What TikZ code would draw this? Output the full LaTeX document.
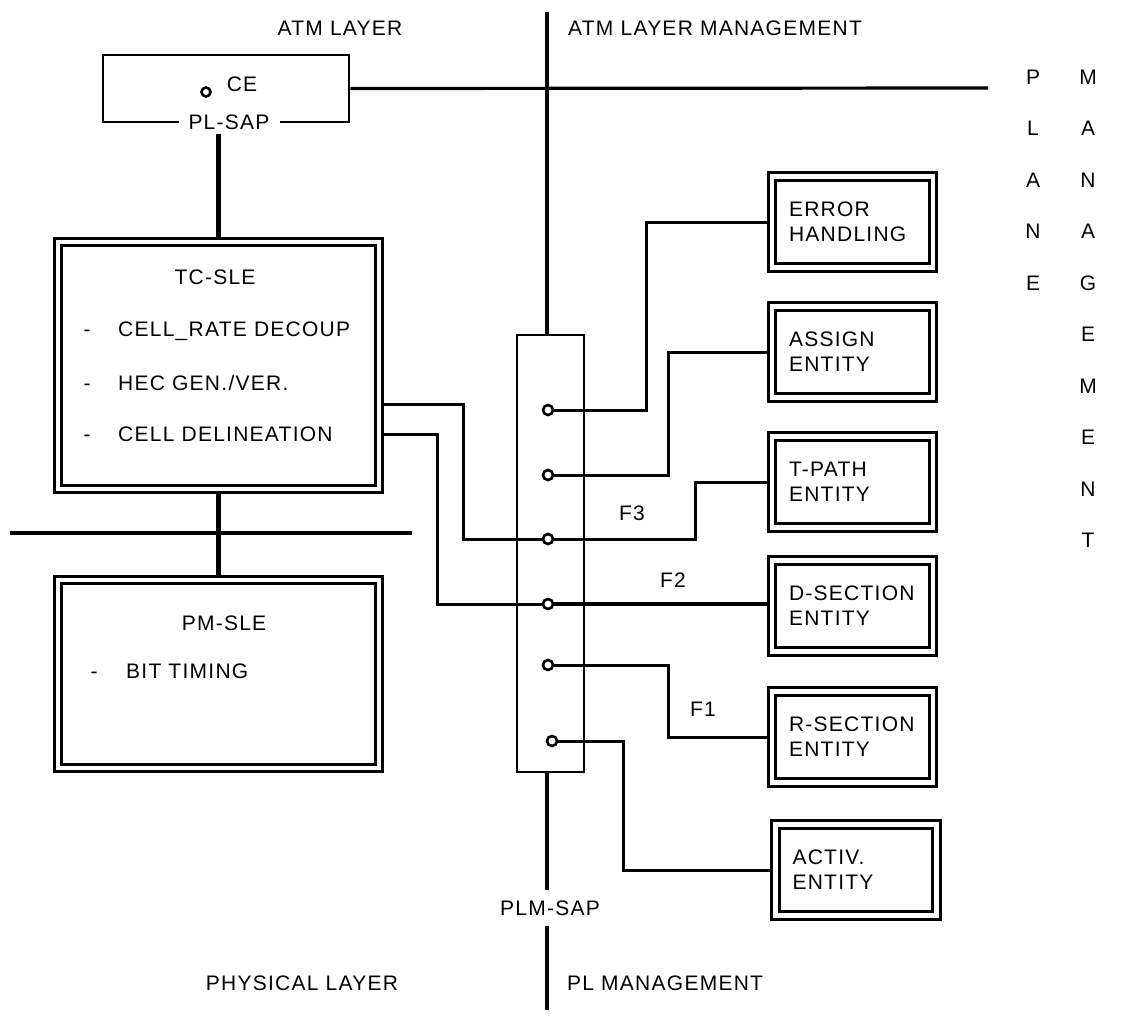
\documentclass[tikz,border=0pt]{standalone}
\usepackage{fontspec}
\setmainfont{Liberation Sans}[LetterSpace=6]
\begin{document}
\begin{tikzpicture}[x=1pt,y=-1pt,
  every node/.style={font=\fontsize{21}{25}\selectfont, inner sep=0pt},
  dbox/.style={draw, line width=2.8pt, double, double distance=4.5pt, outer sep=5pt,
               minimum width=161pt, minimum height=91pt, text width=127pt, inner xsep=17pt, align=left},
  bigbox/.style={draw, line width=2.8pt, double, double distance=4.5pt, outer sep=5pt},
  thin/.style={line width=3pt},
  thick/.style={line width=4.5pt},
  port/.style={circle, draw, fill=white, line width=2.6pt, minimum size=10pt},
  lbl/.style={}]
\useasboundingbox (0,0) rectangle (1121,1018);

% headings
\node[lbl] (hatm) at (340,28) {ATM LAYER};
\node[lbl, anchor=west] (hatmm) at (568,28) {ATM LAYER MANAGEMENT};
\node[lbl] (hphy) at (302,983) {PHYSICAL LAYER};
\node[lbl, anchor=west] (hplm) at (567,983) {PL MANAGEMENT};

% CE box
\node[draw, line width=2.8pt, minimum width=246pt, minimum height=67pt] (ce) at (226,88.5) {};
\node[fill=white, inner xsep=10pt, inner ysep=4pt] (plsap) at (229,122) {PL-SAP};
\node[port, minimum size=9pt] (cep) at (206,92) {};
\node[lbl] (cet) at (242,84) {CE};

% TC-SLE box
\node[bigbox, minimum width=321pt, minimum height=247pt] (tc) at (218.5,365.5) {};
\node (tct) at (215,277) {TC-SLE};
\node[anchor=base] (d1) at (87,336.5) {-};
\node[anchor=base west] (t1) at (118,336.5) {CELL\_RATE DECOUP};
\node[anchor=base] (d2) at (87,390.5) {-};
\node[anchor=base west] (t2) at (118,390.5) {HEC GEN./VER.};
\node[anchor=base] (d3) at (87,441.5) {-};
\node[anchor=base west] (t3) at (118,441.5) {CELL DELINEATION};

% PM-SLE box
\node[bigbox, minimum width=321pt, minimum height=188pt] (pm) at (218.5,674) {};
\node (pmt) at (224,623) {PM-SLE};
\node[anchor=base] (d4) at (94,678.5) {-};
\node[anchor=base west] (t4) at (126,678.5) {BIT TIMING};

% vertical connections on the left
\draw[thick] (plsap.south -| tc.north) -- (tc.north);
\draw[thick] (tc.south) -- (pm.north);
\coordinate (layl) at (10,533);
\coordinate (layr) at (412,533);
\draw[line width=3.2pt] (layl) -- (layr);

% PLANE MANAGEMENT
\foreach \c [count=\i from 0] in {P,L,A,N,E}
  \node (pl\i) at (1033,77+51.5*\i) {\c};
\foreach \c [count=\i from 0] in {M,A,N,A,G,E,M,E,N,T}
  \node (mg\i) at (1088,77+51.5*\i) {\c};

\coordinate (ceend) at (988,88);
\draw[line width=3.2pt] (ce.east) -- (ceend);

% PLM box and main vertical line
\node[draw, line width=2.8pt, minimum width=67pt, minimum height=437pt] (plm) at (550.5,553.5) {};
\coordinate (vtop) at (547,12);
\coordinate (vbot) at (547,1010);
\node[inner xsep=4pt, inner ysep=10pt] (plmsap) at (550,908) {PLM-SAP};
\draw[thick] (vtop) -- (vtop |- plm.north);
\draw[thick] (vtop |- plm.south) -- (vtop |- plmsap.north);
\draw[thick] (vtop |- plmsap.south) -- (vbot);

% right boxes
\node[dbox] (err) at (852.5,222) {ERROR\\HANDLING};
\node[dbox] (asg) at (852.5,352) {ASSIGN\\ENTITY};
\node[dbox] (tp) at (852.5,482) {T-PATH\\ENTITY};
\node[dbox] (ds) at (852.5,606) {D-SECTION\\ENTITY};
\node[dbox] (rs) at (852.5,737) {R-SECTION\\ENTITY};
\node[dbox] (ac) at (856,870) {ACTIV.\\ENTITY};

% ports
\coordinate (p1) at (548,410);
\coordinate (p2) at (548,475);
\coordinate (p3) at (548,539);
\coordinate (p4) at (548,604);
\coordinate (p5) at (548,665);
\coordinate (p6) at (552,741);
\coordinate (tca) at (384,404);
\coordinate (tcb) at (384,434);

% connectors
\draw[thin] (p1) -- (646,410) |- (err.west);
\draw[thin] (p2) -- (668,475) |- (asg.west);
\draw[thin] (p3) -- (695,539) |- (tp.west);
\draw[line width=3.4pt] (p4) -- (p4 -| ds.west);
\draw[thin] (p5) -- (668,665) |- (rs.west);
\draw[thin] (p6) -- (623,741) |- (ac.west);
\draw[thin] (tca) -- (463,404) |- (p3);
\draw[thin] (tcb) -- (437,434) |- (p4);

\foreach \p in {1,...,6}
  \node[port] (o\p) at (p\p) {};

\node (f3) at (632,513) {F3};
\node (f2) at (673,580) {F2};
\node (f1) at (703,709) {F1};
\end{tikzpicture}
\end{document}
